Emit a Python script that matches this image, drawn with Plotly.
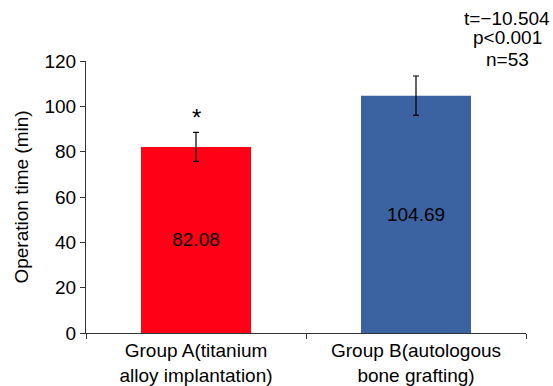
import plotly.graph_objects as go

categories = ["Group A(titanium<br>alloy implantation)", "Group B(autologous<br>bone grafting)"]
values = [82.08, 104.69]
errors = [6.4, 8.7]
value_labels = ["82.08", "104.69"]
colors = ["#FF0016", "#3B63A1"]
stats_lines = ["t=−10.504", "p<0.001", "n=53"]
stats_y = [1.158, 1.085, 1.004]

FONT = "Liberation Sans, Arial, Helvetica, sans-serif"
FS = 19

fig = go.Figure()
fig.add_trace(go.Bar(
    x=categories, y=values,
    width=0.5,
    marker=dict(color=colors, line=dict(width=0)),
    error_y=dict(type="data", array=errors, visible=True, color="black", thickness=1.2, width=3),
    text=value_labels, textposition="inside", insidetextanchor="middle",
    textfont=dict(color="black", size=FS, family=FONT),
    hoverinfo="skip",
))

# significance asterisk above group A
fig.add_annotation(x=categories[0], y=values[0] + errors[0], text="*", showarrow=False,
                   yshift=15, font=dict(size=24, color="black", family=FONT))

for line, yy in zip(stats_lines, stats_y):
    fig.add_annotation(xref="paper", yref="paper", x=0.957, y=yy, xanchor="center", yanchor="middle",
                       text=line, showarrow=False,
                       font=dict(size=FS, color="black", family=FONT))

fig.update_layout(
    width=553, height=386,
    margin=dict(l=86, r=27, t=61, b=53),
    paper_bgcolor="white", plot_bgcolor="white",
    font=dict(family=FONT, size=FS, color="black"),
    showlegend=False,
)
fig.update_xaxes(showline=True, linecolor="#333", linewidth=1, ticks="outside", tickson="boundaries",
                 ticklen=5, tickcolor="#333", showgrid=False, automargin=False,
                 tickfont=dict(size=FS, family=FONT, color="black"))
fig.update_yaxes(range=[0, 120], dtick=20, showline=True, linecolor="#333", linewidth=1,
                 ticks="outside", ticklen=5, tickcolor="#333", showgrid=False, zeroline=False,
                 automargin=False,
                 title=dict(text="Operation time (min)", font=dict(size=FS, family=FONT), standoff=10),
                 tickfont=dict(size=FS, family=FONT, color="black"))

fig.write_html("out.html", config={"displayModeBar": False},
               post_script="document.body.style.margin='0';document.body.style.overflow='hidden';")
